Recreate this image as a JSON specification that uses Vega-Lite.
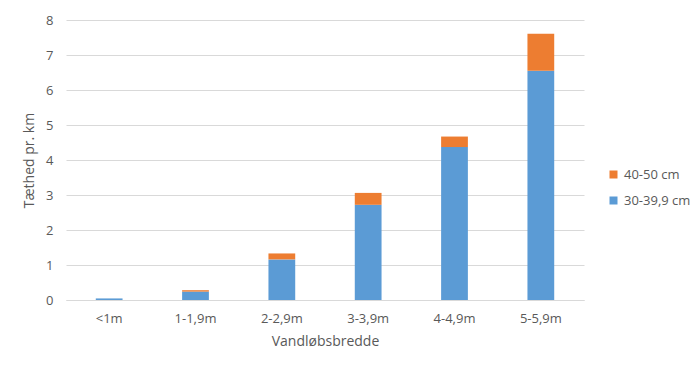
{
  "$schema": "https://vega.github.io/schema/vega-lite/v6.json",
  "width": 518,
  "height": 280,
  "autosize": {"type": "none"},
  "padding": {"left": 66, "top": 20, "right": 116, "bottom": 73},
  "background": "white",
  "data": {
    "values": [
      {"bredde": "<1m", "laengde": "30-39,9 cm", "taethed": 0.045},
      {"bredde": "<1m", "laengde": "40-50 cm", "taethed": 0},
      {"bredde": "1-1,9m", "laengde": "30-39,9 cm", "taethed": 0.24},
      {"bredde": "1-1,9m", "laengde": "40-50 cm", "taethed": 0.04},
      {"bredde": "2-2,9m", "laengde": "30-39,9 cm", "taethed": 1.16},
      {"bredde": "2-2,9m", "laengde": "40-50 cm", "taethed": 0.17},
      {"bredde": "3-3,9m", "laengde": "30-39,9 cm", "taethed": 2.72},
      {"bredde": "3-3,9m", "laengde": "40-50 cm", "taethed": 0.34},
      {"bredde": "4-4,9m", "laengde": "30-39,9 cm", "taethed": 4.37},
      {"bredde": "4-4,9m", "laengde": "40-50 cm", "taethed": 0.3},
      {"bredde": "5-5,9m", "laengde": "30-39,9 cm", "taethed": 6.55},
      {"bredde": "5-5,9m", "laengde": "40-50 cm", "taethed": 1.06}
    ]
  },
  "mark": {"type": "bar"},
  "encoding": {
    "x": {
      "field": "bredde",
      "type": "nominal",
      "sort": ["<1m", "1-1,9m", "2-2,9m", "3-3,9m", "4-4,9m", "5-5,9m"],
      "scale": {"paddingInner": 0.69, "paddingOuter": 0.345},
      "axis": {
        "title": "Vandløbsbredde",
        "labelAngle": 0,
        "ticks": false,
        "domainColor": "#D9D9D9",
        "labelPadding": 12,
        "titlePadding": 9
      }
    },
    "y": {
      "field": "taethed",
      "type": "quantitative",
      "aggregate": "sum",
      "stack": "zero",
      "scale": {"domain": [0, 8]},
      "axis": {
        "title": "Tæthed pr. km",
        "values": [0, 1, 2, 3, 4, 5, 6, 7, 8],
        "labelOverlap": false,
        "domain": false,
        "ticks": false,
        "labelPadding": 13,
        "titlePadding": 9,
        "gridColor": "#D9D9D9"
      }
    },
    "color": {
      "field": "laengde",
      "type": "nominal",
      "scale": {"domain": ["40-50 cm", "30-39,9 cm"], "range": ["#ED7D31", "#5B9BD5"]},
      "legend": {
        "title": null,
        "orient": "none",
        "legendX": 541,
        "legendY": 148,
        "symbolType": "square",
        "symbolSize": 64,
        "symbolStrokeWidth": 0,
        "rowPadding": 12,
        "labelOffset": 4
      }
    },
    "order": {"field": "laengde", "sort": "ascending"}
  },
  "config": {
    "font": "Open Sans",
    "view": {"stroke": null},
    "axis": {
      "labelFont": "Open Sans",
      "labelFontSize": 13,
      "labelColor": "#595959",
      "titleFont": "Open Sans",
      "titleFontSize": 14,
      "titleFontWeight": "normal",
      "titleColor": "#595959"
    },
    "legend": {
      "labelFont": "Open Sans",
      "labelFontSize": 13,
      "labelColor": "#595959"
    }
  }
}
